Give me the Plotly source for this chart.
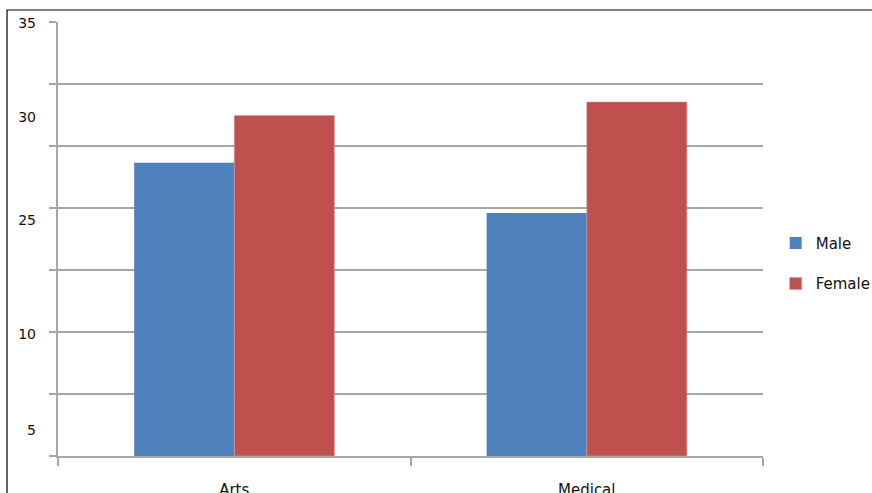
import plotly.graph_objects as go

categories = ["Arts", "Medical"]
male = [23.65, 19.6]
female = [27.45, 28.55]
y_tick_text = ["35", "30", "25", "10", "5"]
y_tick_vals = [34.9, 27.35, 19.05, 9.8, 2.1]

BLUE = "#4F81BD"
RED = "#C0504D"
GRID = "#A6A6A6"
FONT = "DejaVu Sans"

fig = go.Figure()
fig.add_trace(go.Bar(x=categories, y=male, name="Male", marker=dict(color=BLUE, line=dict(width=0)),
                     legendgroup="m"))
fig.add_trace(go.Bar(x=categories, y=female, name="Female", marker=dict(color=RED, line=dict(color="#D99A98", width=0.6)),
                     legendgroup="f"))
# invisible trace carrying the label axis
fig.add_trace(go.Scatter(x=categories, y=[None, None], yaxis="y2", showlegend=False, hoverinfo="skip"))

fig.update_layout(
    width=872, height=493,
    margin=dict(l=58, r=109, t=22, b=37, autoexpand=False),
    paper_bgcolor="white", plot_bgcolor="white",
    barmode="group", bargap=0.432, bargroupgap=0,
    font=dict(family=FONT, size=15, color="#000000"),
    xaxis=dict(type="category", showgrid=False, showline=True, linecolor=GRID, linewidth=2,
               ticks="outside", ticklen=8, tickcolor=GRID, tickwidth=1.5, tickson="boundaries",
               tickfont=dict(size=15, color="#111111"), ticklabelstandoff=19, zeroline=False,
               automargin=False),
    yaxis=dict(range=[0, 35], dtick=5, tick0=0, showgrid=True, gridcolor=GRID, gridwidth=1.8,
               showline=True, linecolor=GRID, linewidth=2, ticks="outside", ticklen=7, tickcolor=GRID,
               tickwidth=1.8, showticklabels=False, zeroline=False, automargin=False),
    yaxis2=dict(range=[0, 35], overlaying="y", side="left", anchor="x", tickmode="array",
                tickvals=y_tick_vals, ticktext=y_tick_text, showgrid=False, showline=False,
                ticks="", zeroline=False, tickfont=dict(size=14, color="#111111"), ticklabelstandoff=21,
                automargin=False),
    legend=dict(x=1.018, xanchor="left", y=0.528, yanchor="top", traceorder="grouped",
                tracegroupgap=18, font=dict(size=15, color="#111111"), bgcolor="rgba(0,0,0,0)"),
    shapes=[dict(type="rect", xref="paper", yref="paper", x0=-0.0723, x1=3, y0=-2, y1=1.0276,
                 line=dict(color="black", width=1.2), fillcolor="rgba(0,0,0,0)", layer="above")],
    showlegend=True,
)

fig.write_html("out.html")
